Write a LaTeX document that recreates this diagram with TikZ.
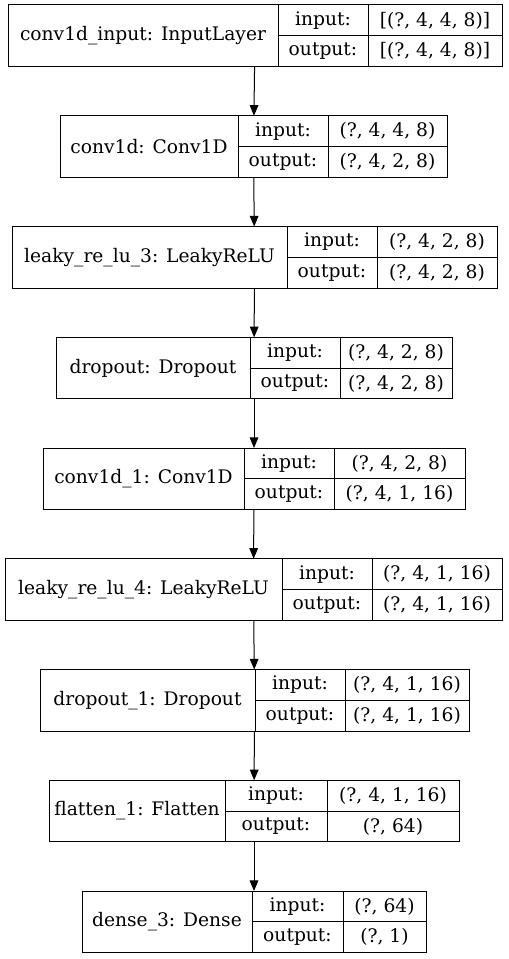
\documentclass[tikz,border=0pt]{standalone}
\usepackage{fontspec}
\setmainfont{DejaVu Serif}
\usetikzlibrary{arrows.meta}

\begin{document}
\begin{tikzpicture}[x=0.75pt, y=-0.75pt,
	layerbox/.style={rectangle, inner sep=0pt, outer sep=0pt, minimum height=46.125pt, anchor=north west},
	namecell/.style={rectangle, draw, line width=.75pt, inner sep=0pt, outer sep=0pt, minimum height=46.125pt, anchor=north west, font=\fontsize{14}{16}\selectfont},
	halfcell/.style={rectangle, draw, line width=.75pt, inner sep=0pt, outer sep=0pt, minimum height=23.0625pt, anchor=north west, font=\fontsize{14}{16}\selectfont},
	arrow/.style={-{Triangle[length=8pt, width=6.5pt]}, line width=.75pt}
	]
	\useasboundingbox (0,0) rectangle (508,959);
	
	% one record per layer: name / label / input / output / cell borders in x
	\foreach \i/\lab/\inp/\outp/\xa/\xb/\xc/\xd in {
		1/conv1d\_input: InputLayer/{[(?, 4, 4, 8)]}/{[(?, 4, 4, 8)]}/8/278/368/502,
		2/conv1d: Conv1D/{(?, 4, 4, 8)}/{(?, 4, 2, 8)}/60/238/328/447,
		3/leaky\_re\_lu\_3: LeakyReLU/{(?, 4, 2, 8)}/{(?, 4, 2, 8)}/12/287/377/497,
		4/dropout: Dropout/{(?, 4, 2, 8)}/{(?, 4, 2, 8)}/56/250/340/452,
		5/conv1d\_1: Conv1D/{(?, 4, 2, 8)}/{(?, 4, 1, 16)}/43/244/334/465,
		6/leaky\_re\_lu\_4: LeakyReLU/{(?, 4, 1, 16)}/{(?, 4, 1, 16)}/5/282/372/502,
		7/dropout\_1: Dropout/{(?, 4, 1, 16)}/{(?, 4, 1, 16)}/40/255/345/469,
		8/flatten\_1: Flatten/{(?, 4, 1, 16)}/{(?, 64)}/49/225/327/459,
		9/dense\_3: Dense/{(?, 64)}/{(?, 1)}/82/252/343/426}
	{
		\pgfmathsetmacro{\yt}{5+110.75*(\i-1)}
		\node[layerbox, minimum width={(\xd-\xa)*0.75pt}] (l\i) at (\xa,\yt) {};
		\node[namecell, minimum width={(\xb-\xa)*0.75pt}] (l\i-name) at (\xa,\yt) {\lab};
		\node[halfcell, minimum width={(\xc-\xb)*0.75pt}] (l\i-inkey) at (\xb,\yt) {input:};
		\node[halfcell, minimum width={(\xc-\xb)*0.75pt}] (l\i-outkey) at (\xb,\yt+30.75) {output:};
		\node[halfcell, minimum width={(\xd-\xc)*0.75pt}] (l\i-inval) at (\xc,\yt) {\inp};
		\node[halfcell, minimum width={(\xd-\xc)*0.75pt}] (l\i-outval) at (\xc,\yt+30.75) {\outp};
	}
	
	\foreach \i [count=\j from 2] in {1,...,8}
		\draw[arrow] (l\i) -- (l\j);
\end{tikzpicture}
\end{document}
